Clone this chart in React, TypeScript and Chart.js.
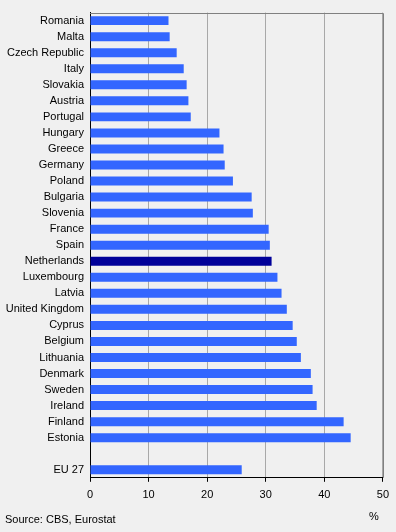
import React, { useEffect, useRef } from "react";
import { Chart, registerables } from "chart.js";

Chart.register(...registerables);

const categories = [
  "Romania", "Malta", "Czech Republic", "Italy", "Slovakia", "Austria", "Portugal",
  "Hungary", "Greece", "Germany", "Poland", "Bulgaria", "Slovenia", "France", "Spain",
  "Netherlands", "Luxembourg", "Latvia", "United Kingdom", "Cyprus", "Belgium",
  "Lithuania", "Denmark", "Sweden", "Ireland", "Finland", "Estonia", "", "EU 27",
];

const values: (number | null)[] = [
  13.4, 13.6, 14.8, 16.0, 16.5, 16.8, 17.2,
  22.1, 22.8, 23.0, 24.4, 27.6, 27.8, 30.5, 30.7,
  31.0, 32.0, 32.7, 33.6, 34.6, 35.3,
  36.0, 37.7, 38.0, 38.7, 43.3, 44.5, null, 25.9,
];

const highlighted = "Netherlands";
const xTicks = [0, 10, 20, 30, 40, 50];
const sourceText = "Source: CBS, Eurostat";
const unitText = "%";

const FONT = "'Liberation Sans', Arial, sans-serif";

const framePlugin = {
  id: "frame",
  afterDatasetsDraw(chart: any) {
    const { ctx, chartArea } = chart;
    ctx.save();
    ctx.strokeStyle = "#808080";
    ctx.lineWidth = 1;
    ctx.beginPath();
    ctx.moveTo(chartArea.left, Math.round(chartArea.top) + 0.5);
    ctx.lineTo(Math.round(chartArea.right) + 0.5, Math.round(chartArea.top) + 0.5);
    ctx.lineTo(Math.round(chartArea.right) + 0.5, chartArea.bottom);
    ctx.stroke();
    ctx.restore();
  },
};

export default function App() {
  const ref = useRef<HTMLCanvasElement | null>(null);

  useEffect(() => {
    document.body.style.margin = "0";
    document.body.style.background = "#F0F0F0";
    if (!ref.current) return;
    const chart = new Chart(ref.current, {
      type: "bar",
      data: {
        labels: categories,
        datasets: [
          {
            data: values,
            backgroundColor: categories.map((c) => (c === highlighted ? "#000099" : "#3366FF")),
            barPercentage: 0.56,
            categoryPercentage: 1,
          },
        ],
      },
      options: {
        indexAxis: "y",
        animation: false,
        responsive: false,
        maintainAspectRatio: false,
        layout: { padding: { left: 0, top: 6, right: 13, bottom: 23 } },
        plugins: { legend: { display: false }, tooltip: { enabled: false } },
        scales: {
          x: {
            min: 0,
            max: 50,
            afterBuildTicks: (scale: any) => {
              scale.ticks = xTicks.map((v) => ({ value: v }));
            },
            grid: {
              color: "#A8A8A8",
              tickColor: "#000000",
              tickLength: 4,
              lineWidth: 1,
            },
            border: { color: "#000000", width: 1 },
            ticks: {
              color: "#000000",
              font: { family: FONT, size: 11 },
              padding: 7,
              maxRotation: 0,
            },
          },
          y: {
            afterFit: (scale: any) => {
              scale.width = 90;
            },
            grid: { display: false, drawTicks: false },
            border: { color: "#000000", width: 1 },
            ticks: {
              color: "#000000",
              font: { family: FONT, size: 11 },
              padding: 6,
              autoSkip: false,
            },
          },
        },
      },
      plugins: [framePlugin],
    });
    return () => chart.destroy();
  }, []);

  return (
    <div style={{ position: "relative", width: 396, height: 532, background: "#F0F0F0", fontFamily: FONT }}>
      <canvas ref={ref} width={396} height={532} style={{ display: "block" }} />
      <div style={{ position: "absolute", left: 5, top: 513, fontSize: 11, color: "#000" }}>{sourceText}</div>
      <div style={{ position: "absolute", left: 369, top: 510, fontSize: 11, color: "#000" }}>{unitText}</div>
    </div>
  );
}
